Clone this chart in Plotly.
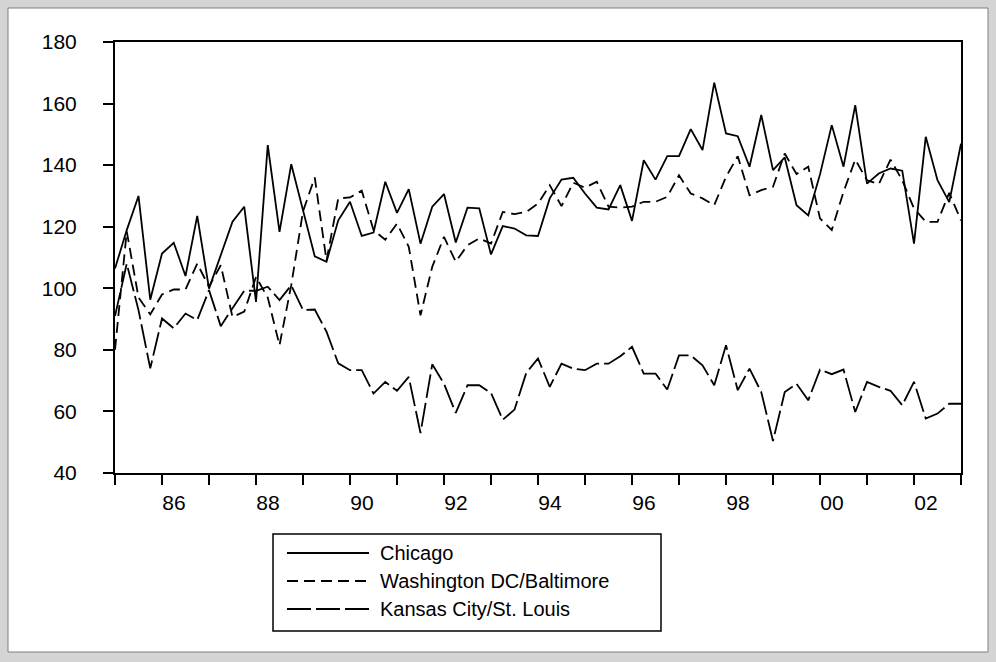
import plotly.graph_objects as go

# Quarterly series, 1985Q1 - 2003Q1
start_year = 1985
n_obs = 73
quarters = [start_year + 0.25 * i for i in range(n_obs)]

chicago = [
    106.4, 118.9, 130.0, 96.3, 111.3, 114.8, 104.0, 123.5, 99.9, 110.7, 121.6, 126.5,
    95.6, 146.5, 118.3, 140.3, 125.4, 110.4, 108.6, 122.1, 128.1, 117.0, 118.1, 134.6,
    124.5, 132.2, 114.5, 126.5, 130.6, 114.9, 126.2, 126.0, 111.0, 120.2, 119.4, 117.2,
    117.0, 129.2, 135.3, 135.9, 130.8, 126.2, 125.6, 133.5, 121.9, 141.6, 135.3, 142.9,
    142.9, 151.7, 144.9, 166.8, 150.3, 149.4, 139.5, 156.3, 138.4, 142.5, 127.0, 123.7,
    137.0, 153.0, 139.5, 159.5, 134.0, 137.3, 138.9, 138.2, 114.5, 149.2, 135.1, 128.0,
    147.0,
]
washington = [
    80.0, 118.5, 97.0, 91.5, 98.0, 99.6, 99.6, 108.0, 100.5, 107.5, 90.7, 92.4,
    103.7, 97.0, 81.5, 101.0, 125.0, 136.0, 109.0, 129.2, 129.5, 131.7, 118.9, 115.8,
    121.0, 113.5, 91.2, 107.0, 116.7, 108.6, 114.0, 116.2, 114.5, 124.8, 124.1, 124.8,
    127.5, 133.5, 126.7, 134.3, 132.7, 134.6, 126.5, 126.2, 126.5, 128.1, 128.1, 129.7,
    136.7, 130.8, 129.2, 127.0, 136.2, 142.9, 130.2, 131.9, 133.0, 143.8, 137.1, 139.5,
    122.7, 118.9, 131.3, 141.8, 135.1, 133.8, 141.8, 135.1, 125.9, 121.6, 121.6, 131.0,
    122.0,
]
kansas_city = [
    91.0, 108.0, 92.9, 74.0, 90.2, 87.0, 91.8, 89.7, 99.4, 87.7, 93.5, 99.2,
    99.2, 100.5, 96.2, 101.0, 92.9, 93.1, 85.9, 75.6, 73.4, 73.4, 65.8, 69.6,
    66.7, 71.2, 53.0, 75.3, 69.0, 59.5, 68.5, 68.5, 66.0, 57.3, 60.6, 72.5,
    77.2, 68.0, 75.5, 73.9, 73.4, 75.5, 75.5, 77.9, 81.0, 72.3, 72.3, 67.1,
    78.2, 78.2, 75.0, 68.5, 81.5, 66.9, 73.9, 66.3, 50.4, 66.3, 69.0, 63.6,
    73.6, 72.1, 73.6, 59.8, 69.6, 68.0, 66.7, 62.0, 69.6, 57.7, 59.3, 62.5,
    62.5,
]

series_names = ["Chicago", "Washington DC/Baltimore", "Kansas City/St. Louis"]
series_dash = ["solid", "11px,6px", "24px,5px"]

year_ticks = list(range(1985, 2004))
year_labels = ["" if y % 2 else f"{y % 100:02d}" for y in year_ticks]
y_ticks = [40, 60, 80, 100, 120, 140, 160, 180]

W, H = 996, 662
ML, MR, MT, MB = 115, 35, 42, 189
PW, PH = W - ML - MR, H - MT - MB
FONT = "Liberation Sans, Arial, sans-serif"


def px_x(px):
    return (px - ML) / PW


def px_y(py):
    return (H - MB - py) / PH


fig = go.Figure()
for name, vals, dash in zip(series_names, [chicago, washington, kansas_city], series_dash):
    fig.add_trace(go.Scatter(
        x=quarters, y=vals, mode="lines", name=name,
        line=dict(color="black", width=1.8, dash=dash),
        showlegend=False,
    ))

shapes = [
    # white page panel on grey background
    dict(type="rect", xref="paper", yref="paper", layer="below",
         x0=px_x(8), x1=px_x(988), y0=px_y(652), y1=px_y(8),
         fillcolor="white", line=dict(color="#7f7f7f", width=1)),
    # legend frame
    dict(type="rect", xref="paper", yref="paper",
         x0=px_x(273), x1=px_x(661), y0=px_y(631), y1=px_y(534),
         fillcolor="white", line=dict(color="black", width=1.5)),
]
annotations = []
row_y = [553, 581, 609]
for name, dash, ry in zip(series_names, series_dash, row_y):
    shapes.append(dict(type="line", xref="paper", yref="paper",
                       x0=px_x(287), x1=px_x(369), y0=px_y(ry), y1=px_y(ry),
                       line=dict(color="black", width=1.8, dash=dash)))
    annotations.append(dict(xref="paper", yref="paper", x=px_x(378), y=px_y(ry),
                            text=name, showarrow=False, xanchor="left", yanchor="middle",
                            font=dict(family=FONT, size=20, color="black")))

fig.update_layout(
    width=W, height=H,
    margin=dict(l=ML, r=MR, t=MT, b=MB, pad=0),
    paper_bgcolor="#d4d4d4",
    plot_bgcolor="white",
    showlegend=False,
    shapes=shapes,
    annotations=annotations,
    font=dict(family=FONT, size=20, color="black"),
    xaxis=dict(
        range=[quarters[0], quarters[-1]],
        tickvals=year_ticks, ticktext=year_labels,
        tickfont=dict(size=21),
        ticks="outside", ticklen=10, tickwidth=1.5, tickcolor="black",
        ticklabelshift=12, ticklabelstandoff=0,
        showline=True, mirror=True, linecolor="black", linewidth=2,
        showgrid=False, zeroline=False,
    ),
    yaxis=dict(
        range=[40, 180], tickvals=y_ticks,
        tickfont=dict(size=21),
        ticks="outside", ticklen=10, tickwidth=1.5, tickcolor="black",
        ticklabelstandoff=22,
        showline=True, mirror=True, linecolor="black", linewidth=2,
        showgrid=False, zeroline=False,
    ),
)

fig.write_html("out.html")
